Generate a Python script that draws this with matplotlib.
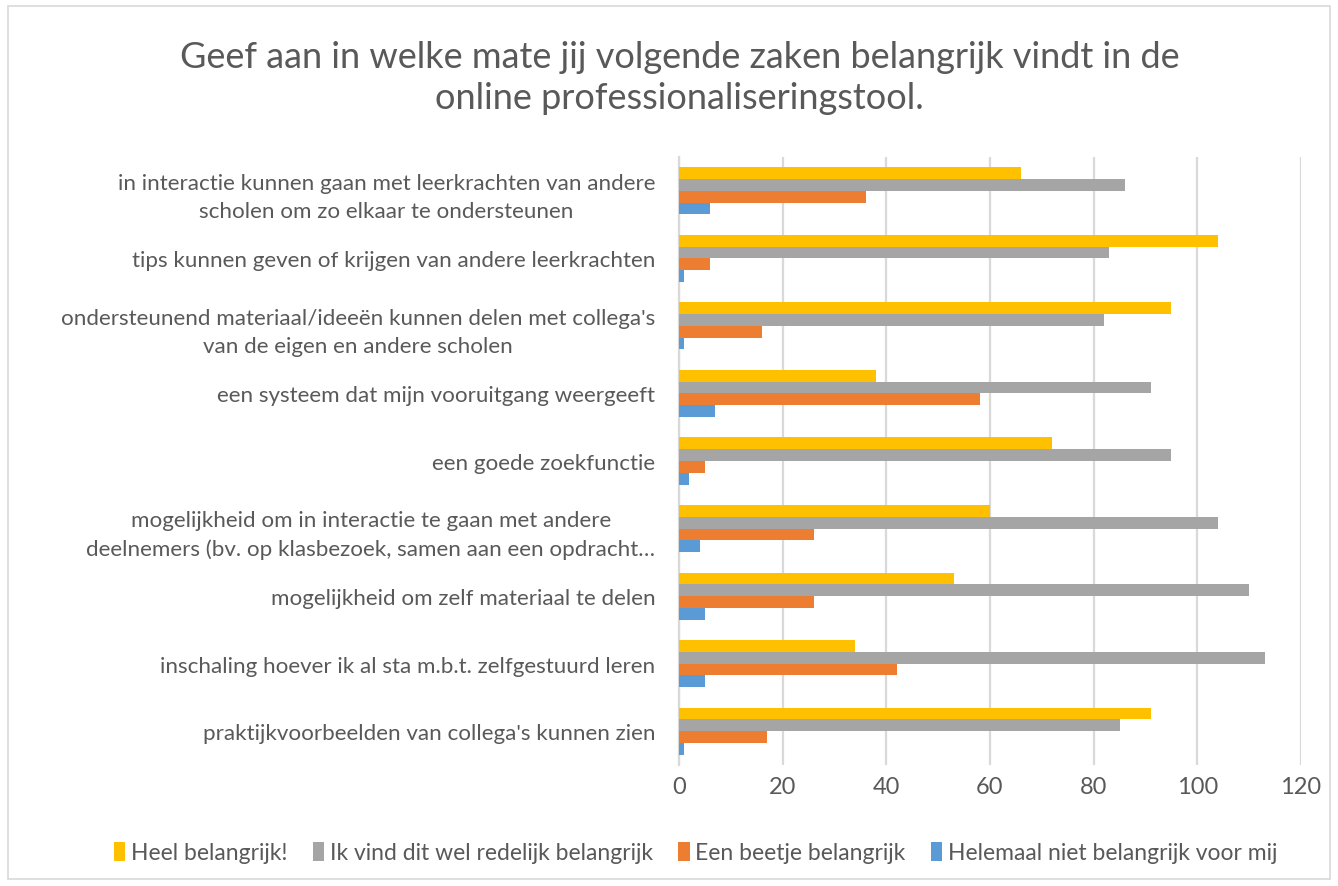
import numpy as np
import matplotlib.pyplot as plt
from matplotlib.patches import Rectangle

plt.rcParams['font.family'] = ['Lato', 'DejaVu Sans']

categories = [
    "in interactie kunnen gaan met leerkrachten van andere\nscholen om zo elkaar te ondersteunen",
    "tips kunnen geven of krijgen van andere leerkrachten",
    "ondersteunend materiaal/ideeën kunnen delen met collega's\nvan de eigen en andere scholen",
    "een systeem dat mijn vooruitgang weergeeft",
    "een goede zoekfunctie",
    "mogelijkheid om in interactie te gaan met andere\ndeelnemers (bv. op klasbezoek, samen aan een opdracht…",
    "mogelijkheid om zelf materiaal te delen",
    "inschaling hoever ik al sta m.b.t. zelfgestuurd leren",
    "praktijkvoorbeelden van collega's kunnen zien",
]
series_names = ["Heel belangrijk!", "Ik vind dit wel redelijk belangrijk",
                "Een beetje belangrijk", "Helemaal niet belangrijk voor mij"]
heel = [66, 104, 95, 38, 72, 60, 53, 34, 91]
redelijk = [86, 83, 82, 91, 95, 104, 110, 113, 85]
beetje = [36, 6, 16, 58, 5, 26, 26, 42, 17]
helemaal = [6, 1, 1, 7, 2, 4, 5, 5, 1]
xticks = [0, 20, 40, 60, 80, 100, 120]

colors = ['#FFC000', '#A5A5A5', '#ED7D31', '#5B9BD5']
txt = '#595959'

fig = plt.figure(figsize=(13.38, 8.87), dpi=100)
ax = fig.add_axes([0.5075, 0.1364, 0.4648, 0.6855])

n = len(categories)
ypos = np.arange(n)[::-1]
h = 0.174
offsets = [1.5 * h, 0.5 * h, -0.5 * h, -1.5 * h]
for vals, off, c, name in zip([heel, redelijk, beetje, helemaal], offsets, colors, series_names):
    ax.barh(ypos + off, vals, height=h, color=c, label=name, zorder=3)

ax.set_xlim(0, 120)
ax.set_ylim(-0.5, n - 0.5)
ax.set_xticks(xticks)
ax.set_xticklabels([str(t) for t in xticks], fontsize=17, color=txt)
ax.set_yticks(ypos)
ax.set_yticklabels(categories, fontsize=16.1, color=txt, multialignment='center',
                   linespacing=1.5)
ax.tick_params(axis='y', length=0, pad=17)
ax.tick_params(axis='x', length=0, pad=8)
ax.grid(axis='x', color='#D9D9D9', linewidth=1.6, zorder=0)
for s in ['top', 'right', 'bottom']:
    ax.spines[s].set_visible(False)
ax.spines['left'].set_color('#D9D9D9')
ax.spines['left'].set_linewidth(1.6)

fig.text(0.508, 0.912, "Geef aan in welke mate jij volgende zaken belangrijk vindt in de\nonline professionaliseringstool.",
         ha='center', va='center', fontsize=26, color=txt, linespacing=1.32)

fig.legend(loc='center', bbox_to_anchor=(0.52, 0.038), ncol=4, frameon=False,
           fontsize=16.5, labelcolor=txt, handlelength=0.5, handleheight=0.9,
           handletextpad=0.25, columnspacing=1.1)

fig.patches.append(Rectangle((8 / 1338, 7 / 887), 1322 / 1338, 873 / 887,
                             transform=fig.transFigure, fill=False,
                             edgecolor='#D9D9D9', linewidth=1.2))

fig.savefig('out.png', dpi=100)
